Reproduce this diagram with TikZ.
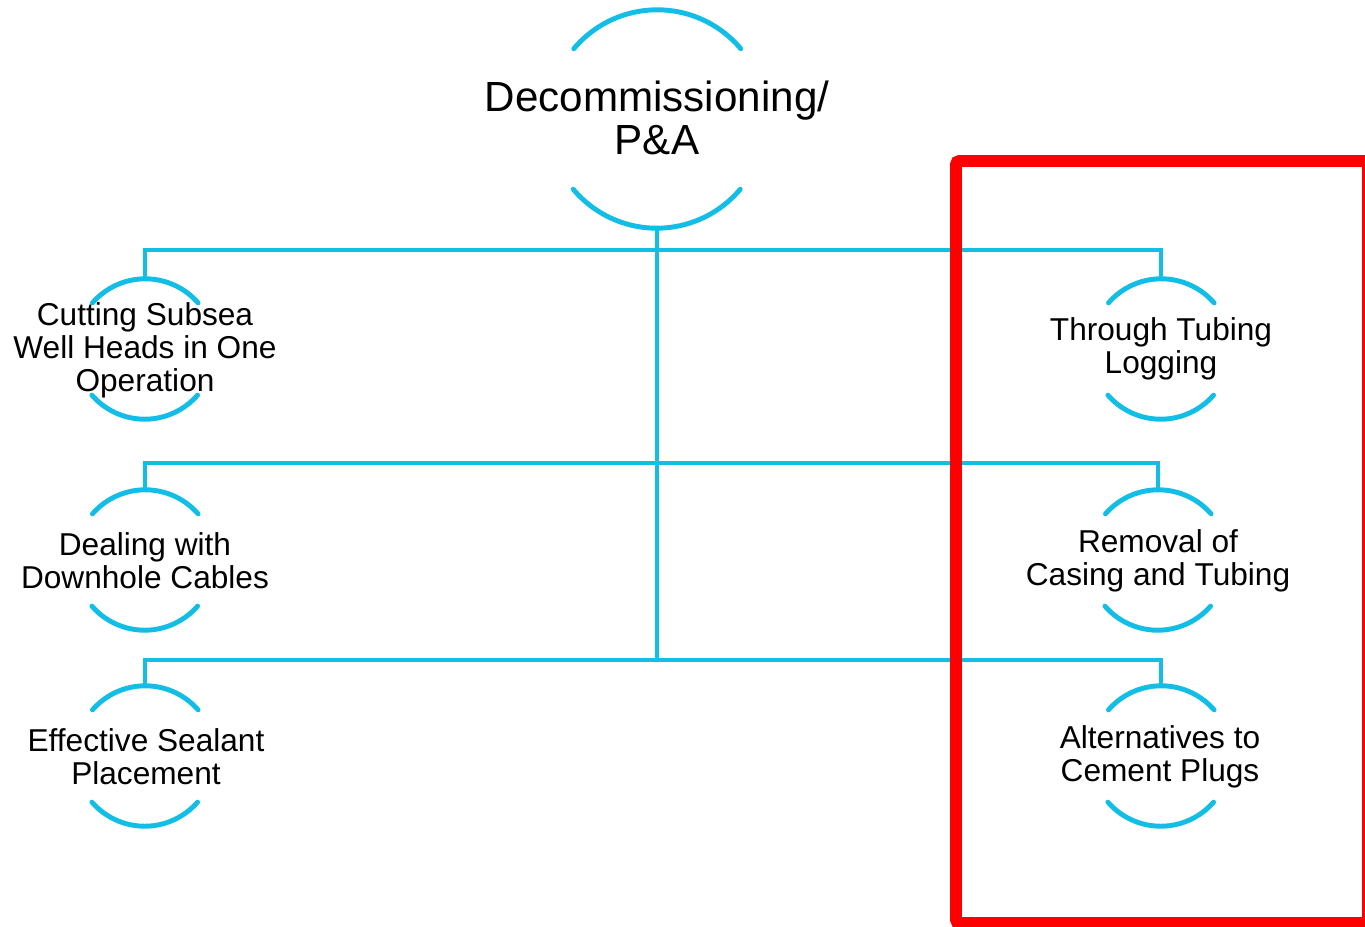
\documentclass[tikz,border=0pt]{standalone}
\usepackage{fontspec}
\setmainfont{Liberation Sans}
\definecolor{ringblue}{RGB}{18,190,230}
\definecolor{boxred}{RGB}{255,0,0}
\begin{document}
\begin{tikzpicture}[x=0.02cm,y=-0.02cm,
  ring/.style={circle,draw=none,inner sep=0pt,minimum size=2.8cm},
  bigring/.style={circle,draw=none,inner sep=0pt,minimum size=4.36cm},
  arcline/.style={draw=ringblue,line width=2.8pt},
  link/.style={draw=ringblue,line width=2.3pt},
  rootlabel/.style={align=center,font=\fontsize{24}{24.4}\selectfont,text=black},
  leaflabel/.style={align=center,font=\fontsize{18}{18.7}\selectfont,text=black}
]
\useasboundingbox (0,0) rectangle (1365,926);
\clip (0,0) rectangle (1365,926);

% ring nodes
\node[bigring] (root) at (657,119) {};
\node[ring] (c1) at (145,349) {};
\node[ring] (c2) at (145,560) {};
\node[ring] (c3) at (145,756) {};
\node[ring] (r1) at (1161,349) {};
\node[ring] (r2) at (1158,560) {};
\node[ring] (r3) at (1161,756) {};

% junctions on the trunk
\coordinate (j1) at (657,250);
\coordinate (j2) at (657,463);
\coordinate (j3) at (657,660);

% connectors
\draw[link] (c1.north) |- (j1) -| (r1.north);
\draw[link] (c2.north) |- (j2) -| (r2.north);
\draw[link] (c3.north) |- (j3) -| (r3.north);
\draw[link] (root.south) -- (j3);

% arcs
\draw[arcline,line cap=round] (root.40) arc[start angle=40,end angle=140,radius=2.18cm];
\draw[arcline,line cap=round] (root.220) arc[start angle=220,end angle=320,radius=2.18cm];
\foreach \n in {c1,c2,c3,r1,r2,r3}{
  \draw[arcline,line cap=round] (\n.41) arc[start angle=41,end angle=139,radius=1.4cm];
  \draw[arcline,line cap=round] (\n.221) arc[start angle=221,end angle=319,radius=1.4cm];
}

% labels
\node[rootlabel] (roott) at (657,118) {Decommissioning/\\P\&A};
\node[leaflabel] (c1t) at (145,350) {Cutting Subsea\\Well Heads in One\\Operation};
\node[leaflabel] (c2t) at (145,561) {Dealing with\\Downhole Cables};
\node[leaflabel] (c3t) at (146,757) {Effective Sealant\\Placement};
\node[leaflabel] (r1t) at (1161,349) {Through Tubing\\Logging};
\node[leaflabel] (r2t) at (1158,561) {Removal of\\Casing and Tubing};
\node[leaflabel] (r3t) at (1160,757) {Alternatives to\\Cement Plugs};

% red highlight box
\draw[boxred,line width=6.8pt,rounded corners=2pt] (956,161) rectangle (1368,923);
\end{tikzpicture}
\end{document}
